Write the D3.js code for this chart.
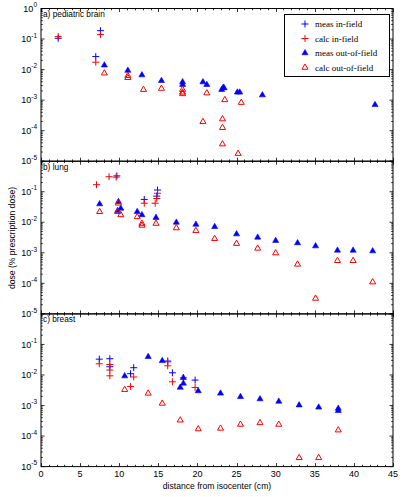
<!DOCTYPE html>
<html><head><meta charset="utf-8">
<script src="https://cdn.jsdelivr.net/npm/d3@7"></script>
<style>body{margin:0;background:#fff}</style></head>
<body>
<svg id="c" width="404" height="497"></svg>
<script>
// ---- data: [distance (cm), dose (fraction of prescription)] ----
const xTicks = [0,5,10,15,20,25,30,35,40,45];
const yExponents = [0,-1,-2,-3,-4,-5];
const panelTitles = ["a) pediatric brain","b) lung","c) breast"];
const seriesNames = ["meas in-field","calc in-field","meas out-of-field","calc out-of-field"];

const brainMeasIn = [[2.2,0.106],[7.6,0.188],[7.0,0.0266]];
const brainCalcIn = [[2.2,0.12],[7.6,0.14],[7.0,0.0174]];
const brainMeasOut = [[8.1,0.0139],[11.1,0.0093],[12.9,0.0066],[15.4,0.0043],[18.1,0.0039],[18.1,0.0032],[20.7,0.0039],[21.2,0.0032],[23.1,0.0022],[23.3,0.0026],[23.4,0.0025],[25.1,0.0018],[25.4,0.0018],[28.3,0.00146],[42.7,0.0007]];
const brainCalcOut = [[8.1,0.0076],[11.1,0.0063],[11.1,0.0054],[13.1,0.0022],[15.4,0.0024],[18.1,0.0022],[18.1,0.0018],[18.1,0.0016],[21.2,0.0017],[20.7,0.000195],[23.5,0.00102],[23.2,0.00024],[23.2,0.000125],[23.2,0.0000363],[25.6,0.00083],[25.2,0.0000177]];

const lungMeasIn = [[9.7,0.33],[13.2,0.056],[14.9,0.114],[14.8,0.072]];
const lungCalcIn = [[7.1,0.17],[8.7,0.31],[9.6,0.30],[13.2,0.042],[14.9,0.089],[14.6,0.042],[14.8,0.06]];
const lungMeasOut = [[7.5,0.0396],[9.9,0.047],[9.8,0.024],[10.2,0.0285],[12.3,0.022],[12.9,0.0174],[14.7,0.0142],[17.3,0.0099],[19.8,0.0085],[22.2,0.0071],[25.0,0.0041],[27.7,0.0032],[30.0,0.0025],[32.8,0.0021],[35.1,0.00166],[37.9,0.0012],[39.9,0.0012],[42.4,0.00114]];
const lungCalcOut = [[7.5,0.0221],[9.9,0.042],[9.8,0.022],[10.2,0.0174],[12.3,0.015],[12.9,0.0091],[12.9,0.0079],[14.7,0.0091],[17.3,0.0065],[19.8,0.0053],[22.2,0.0029],[25.0,0.002],[27.7,0.0014],[30.0,0.00098],[32.8,0.00042],[35.1,0.000032],[37.9,0.00055],[39.9,0.00055],[42.4,0.00011]];

const breastMeasIn = [[7.45,0.033],[8.8,0.034],[8.8,0.0186],[11.45,0.011],[11.85,0.0173],[16.2,0.0286],[16.8,0.0118],[19.7,0.0068]];
const breastCalcIn = [[7.45,0.0233],[8.8,0.022],[8.8,0.0145],[8.8,0.0094],[11.45,0.0042],[11.85,0.0086],[16.2,0.027],[16.2,0.02],[16.8,0.006],[18.2,0.0081],[19.7,0.0039]];
const breastMeasOut = [[10.7,0.0092],[13.7,0.0396],[15.5,0.029],[17.8,0.0039],[18.2,0.0081],[18.2,0.0053],[20.1,0.003],[22.95,0.0025],[25.5,0.00193],[28.0,0.00163],[30.4,0.00136],[33.0,0.00103],[35.5,0.00087],[38.0,0.0008],[38.0,0.00067]];
const breastCalcOut = [[10.7,0.0033],[13.7,0.0025],[15.5,0.00117],[17.8,0.00033],[20.1,0.00017],[22.95,0.000178],[25.5,0.00024],[28.0,0.00027],[30.4,0.00024],[33.0,0.0000194],[35.5,0.0000194],[38.0,0.000156]];

const panelsData = [
  [brainMeasIn, brainCalcIn, brainMeasOut, brainCalcOut],
  [lungMeasIn, lungCalcIn, lungMeasOut, lungCalcOut],
  [breastMeasIn, breastCalcIn, breastMeasOut, breastCalcOut]
];

// ---- layout ----
const svg = d3.select("#c");
const L = 41, R = 393;
const tops = [8.5, 161.2, 313.9], PH = 152.7;
const BLUE = "#0000ff", RED = "#ff0000";
const x = d3.scaleLinear().domain([0,45]).range([L,R]);
const sans = "Liberation Sans, Arial, sans-serif";

const triPath = d3.symbol().type(d3.symbolTriangle).size(16);

function drawPlus(g, data, xs, ys, color) {
  g.selectAll(null).data(data).enter().append("path")
    .attr("d", d => { const px = xs(d[0]), py = ys(d[1]); return `M${px-3.5},${py}h7M${px},${py-3.5}v7`; })
    .attr("stroke", color).attr("stroke-width", 1).attr("fill", "none");
}
function drawTri(g, data, xs, ys, color, filled) {
  g.selectAll(null).data(data).enter().append("path")
    .attr("d", triPath)
    .attr("transform", d => `translate(${xs(d[0])},${ys(d[1])})`)
    .attr("fill", filled ? color : "none")
    .attr("stroke", color).attr("stroke-width", filled ? 0.6 : 1);
}

panelsData.forEach((series, i) => {
  const top = tops[i], bot = top + PH;
  const y = d3.scaleLog().domain([1e-5, 1]).range([bot, top]);
  const g = svg.append("g");

  // ticks x
  const ax = g.append("g").attr("stroke", "#000").attr("stroke-width", 0.8);
  d3.range(0, 46, 1).forEach(v => {
    const len = (v % 5 === 0) ? 3.5 : 1.8;
    const px = Math.round(x(v)) + 0.5;
    ax.append("line").attr("x1", px).attr("x2", px).attr("y1", bot).attr("y2", bot - len);
    ax.append("line").attr("x1", px).attr("x2", px).attr("y1", top).attr("y2", top + len);
  });
  // ticks y
  for (let e = -5; e <= 0; e++) {
    const ks = e < 0 ? [1,2,3,4,5,6,7,8,9] : [1];
    ks.forEach(k => {
      const v = k * Math.pow(10, e);
      const len = k === 1 ? 3.5 : 1.8;
      const py = y(v);
      ax.append("line").attr("x1", L).attr("x2", L + len).attr("y1", py).attr("y2", py);
      ax.append("line").attr("x1", R).attr("x2", R - len).attr("y1", py).attr("y2", py);
    });
  }
  // box
  g.append("rect").attr("x", L).attr("y", top).attr("width", R - L).attr("height", PH)
    .attr("fill", "none").attr("stroke", "#000").attr("stroke-width", 1);

  // y tick labels (top label only on first panel; lower panels share the boundary label)
  yExponents.filter(e => i === 0 || e !== 0).forEach(e => {
    const t = g.append("text").attr("x", 37).attr("y", y(Math.pow(10, e)) + 3.2)
      .attr("text-anchor", "end").attr("font-family", sans).attr("font-size", 9).attr("fill", "#000");
    t.append("tspan").text("10");
    t.append("tspan").attr("dy", -4.5).attr("font-size", 6.5).text(String(e));
  });

  // panel title
  g.append("text").attr("x", 43).attr("y", top + 8.5).attr("font-family", sans)
    .attr("font-size", 8.3).attr("fill", "#000").text(panelTitles[i]);

  // markers
  const [mi, ci, mo, co] = series;
  drawPlus(g, mi, x, y, BLUE);
  drawPlus(g, ci, x, y, RED);
  drawTri(g, mo, x, y, BLUE, true);
  drawTri(g, co, x, y, RED, false);

  // x tick labels bottom panel
  if (i === 2) {
    xTicks.forEach(v => {
      g.append("text").attr("x", x(v)).attr("y", bot + 10.5).attr("text-anchor", "middle")
        .attr("font-family", sans).attr("font-size", 9).attr("fill", "#000").text(v);
    });
  }
});

// axis labels
svg.append("text").attr("x", (L + R) / 2).attr("y", 488.5).attr("text-anchor", "middle")
  .attr("font-family", sans).attr("font-size", 8.6).attr("fill", "#000").text("distance from isocenter (cm)");
svg.append("text").attr("transform", "translate(14.5,238) rotate(-90)").attr("text-anchor", "middle")
  .attr("font-family", sans).attr("font-size", 8.6).attr("fill", "#000").text("dose (% prescription dose)");

// legend
const lg = svg.append("g");
lg.append("rect").attr("x", 284.5).attr("y", 14.5).attr("width", 105).attr("height", 62)
  .attr("fill", "#fff").attr("stroke", "#000").attr("stroke-width", 1);
const ly = [24, 38.5, 53, 67.5];
seriesNames.forEach((name, k) => {
  const mx = 305, my = ly[k];
  if (k < 2) {
    lg.append("path").attr("d", `M${mx-3.5},${my}h7M${mx},${my-3.5}v7`)
      .attr("stroke", k === 0 ? BLUE : RED).attr("stroke-width", 1);
  } else {
    lg.append("path").attr("d", triPath).attr("transform", `translate(${mx},${my})`)
      .attr("fill", k === 2 ? BLUE : "none").attr("stroke", k === 2 ? BLUE : RED)
      .attr("stroke-width", k === 2 ? 0.6 : 1);
  }
  lg.append("text").attr("x", 315).attr("y", my + 3).attr("font-family", "Liberation Serif, Times New Roman, serif")
    .attr("font-size", 9).attr("fill", "#000").text(name);
});
</script>
</body></html>
